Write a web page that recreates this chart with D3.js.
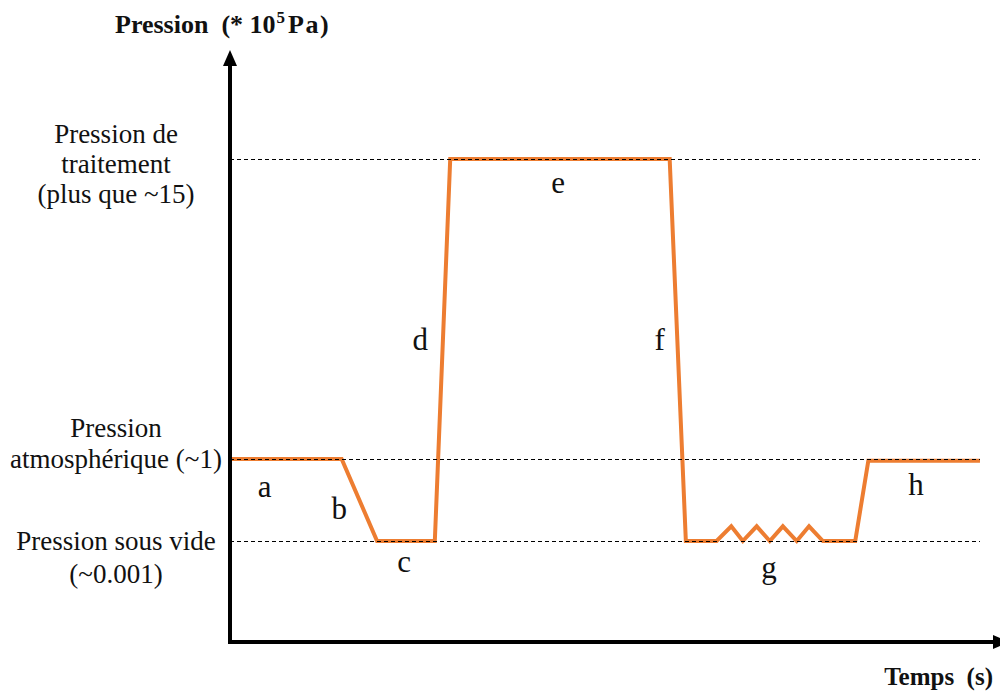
<!DOCTYPE html>
<html>
<head>
<meta charset="utf-8">
<script src="https://cdn.jsdelivr.net/npm/d3@7"></script>
<style>
  body { margin: 0; background: #fff; }
</style>
</head>
<body>
<div id="chart"></div>
<script>
// time in arbitrary units (0-100), pressure in 10^5 Pa
var times     = [0, 14.5, 19.1, 26.6, 28.6, 57.1, 59.2, 63.2, 65.1, 66.6, 68.4, 70.1, 71.8, 73.6, 75.2, 77.0, 81.2, 82.9, 97.4];
var pressures = [1, 1, 0.001, 0.001, 15, 15, 0.001, 0.001, 0.18, 0.001, 0.18, 0.001, 0.18, 0.001, 0.18, 0.001, 0.001, 0.98, 0.98];

// reference pressure levels and their labels
var levels = [15, 1, 0.001];
var levelLabels = [
  ["Pression de", "traitement", "(plus que ~15)"],
  ["Pression", "atmosphérique (~1)"],
  ["Pression sous vide", "(~0.001)"]
];

// phase letters
var phases     = ["a", "b", "c", "d", "e", "f", "g", "h"];
var phaseTimes = [4.5, 14.2, 22.6, 24.7, 42.6, 55.8, 70.0, 89.1];
var phasePress = [1, 0.001, 0.001, 6.1, 15, 6.1, 0.001, 1];

var svgWidth = 1000;
var svgHeight = 691;
var serif = '"Liberation Serif", "Times New Roman", serif';

var svg = d3.select("#chart")
  .append("svg")
  .attr("width", svgWidth)
  .attr("height", svgHeight)
  .style("display", "block");

var x = d3.scaleLinear()
  .domain([0, 100])
  .range([230, 1000]);

// piecewise scale: the levels are not evenly spaced on the drawing
var y = d3.scaleLinear()
  .domain([0.001, 1, 15])
  .range([541, 459, 159]);

var axisX = 230;
var axisY = 642;

var data = times.map(function (t, i) { return { t: t, p: pressures[i] }; });

// pressure curve
var line = d3.line()
  .x(d => x(d.t))
  .y(d => y(d.p));

svg.append("path")
  .datum(data)
  .attr("d", line)
  .attr("fill", "none")
  .attr("stroke", "#ED7D31")
  .attr("stroke-width", 4)
  .attr("stroke-linejoin", "miter");

// dashed reference lines (drawn over the curve)
svg.selectAll(".refLine")
  .data(levels)
  .enter()
  .append("line")
  .attr("class", "refLine")
  .attr("x1", axisX)
  .attr("x2", x(97.4))
  .attr("y1", d => Math.round(y(d)) + 0.5)
  .attr("y2", d => Math.round(y(d)) + 0.5)
  .attr("stroke", "#000")
  .attr("stroke-width", 1)
  .attr("stroke-dasharray", "4,3");

// level labels on the left
var lineOffsets = [[-16, 14, 44], [-22, 9], [9, 42]];
levels.forEach(function (lv, i) {
  var t = svg.append("text")
    .attr("text-anchor", "middle")
    .attr("font-family", serif)
    .attr("font-size", "27px")
    .attr("fill", "#111");
  levelLabels[i].forEach(function (s, j) {
    t.append("tspan")
      .attr("x", 116)
      .attr("y", y(lv) + lineOffsets[i][j])
      .text(s);
  });
});

// phase letters
var phaseDy = [38, -22, 31, 0, 34, 0, 37, 36];
svg.selectAll(".phase")
  .data(phases)
  .enter()
  .append("text")
  .attr("class", "phase")
  .attr("x", (d, i) => x(phaseTimes[i]))
  .attr("y", (d, i) => y(phasePress[i]) + phaseDy[i])
  .attr("text-anchor", "middle")
  .attr("font-family", serif)
  .attr("font-size", "31px")
  .attr("fill", "#111")
  .text(d => d);

// axes
svg.append("line")
  .attr("x1", axisX).attr("y1", axisY + 2)
  .attr("x2", axisX).attr("y2", 62)
  .attr("stroke", "#000")
  .attr("stroke-width", 4);

svg.append("path")
  .attr("d", `M${axisX},50 L${axisX - 7},66 L${axisX + 7},66 Z`)
  .attr("fill", "#000");

svg.append("line")
  .attr("x1", axisX - 2).attr("y1", axisY)
  .attr("x2", 996).attr("y2", axisY)
  .attr("stroke", "#000")
  .attr("stroke-width", 4);

svg.append("path")
  .attr("d", `M1009,${axisY} L993,${axisY - 7} L993,${axisY + 7} Z`)
  .attr("fill", "#000");

// axis titles
var yTitle = svg.append("text")
  .attr("x", 115)
  .attr("y", 33)
  .attr("font-family", serif)
  .attr("font-size", "26px")
  .attr("font-weight", "bold")
  .attr("fill", "#111")
  .attr("xml:space", "preserve");
yTitle.append("tspan").text("Pression  (* 10");
yTitle.append("tspan").attr("font-size", "17px").attr("dy", -10).attr("dx", 1).text("5");
yTitle.append("tspan").attr("dy", 10).attr("dx", 3).attr("letter-spacing", "1.5px").text("Pa)");

svg.append("text")
  .attr("x", 993)
  .attr("y", 685)
  .attr("text-anchor", "end")
  .attr("font-family", serif)
  .attr("font-size", "25px")
  .attr("font-weight", "bold")
  .attr("fill", "#111")
  .attr("xml:space", "preserve")
  .text("Temps  (s)");
</script>
</body>
</html>
